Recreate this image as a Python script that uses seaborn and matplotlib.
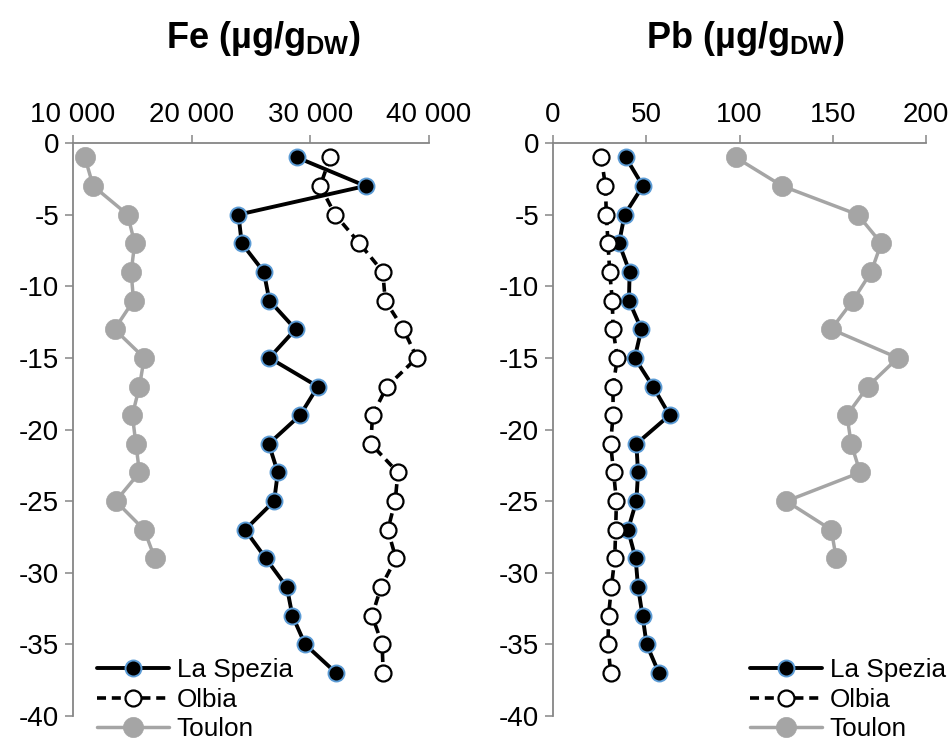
import matplotlib
matplotlib.use("Agg")
import matplotlib.pyplot as plt
from matplotlib.ticker import FuncFormatter, MultipleLocator
import seaborn as sns
import pandas as pd

# ---------------- data ----------------
depth_long = [-1, -3, -5, -7, -9, -11, -13, -15, -17, -19, -21, -23, -25, -27,
              -29, -31, -33, -35, -37]
depth_toulon = [-1, -3, -5, -7, -9, -11, -13, -15, -17, -19, -21, -23, -25, -27, -29]

fe_la_spezia = [28860, 34650, 23940, 24220, 26080, 26550, 28750, 26550, 30630,
                29140, 26500, 27260, 26950, 24500, 26250, 28020, 28490, 29560, 32180]
fe_olbia = [31670, 30830, 32090, 34140, 36110, 36310, 37850, 38980, 36450,
            35240, 35100, 37380, 37150, 36530, 37210, 35950, 35210, 36050, 36140]
fe_toulon = [11000, 11700, 14600, 15200, 14900, 15100, 13500, 16000, 15600,
             15000, 15300, 15600, 13600, 16000, 16900]

pb_la_spezia = [39.0, 48.2, 38.4, 35.4, 41.1, 40.7, 47.4, 43.8, 53.6, 62.5,
                44.7, 45.6, 44.7, 40.2, 44.3, 45.6, 48.0, 50.2, 56.8]
pb_olbia = [25.9, 28.1, 28.6, 29.5, 30.4, 31.8, 32.2, 34.5, 32.2, 32.2,
            30.9, 32.5, 34.0, 33.6, 33.1, 31.3, 29.8, 29.5, 30.9]
pb_toulon = [97.9, 122.9, 163.4, 176.0, 170.6, 160.8, 149.2, 184.9, 168.8,
             157.6, 159.9, 164.7, 125.1, 149.2, 151.9]

series_names = ["La Spezia", "Olbia", "Toulon"]
panel_titles = ["Fe (µg/g$_{\\mathregular{DW}}$)", "Pb (µg/g$_{\\mathregular{DW}}$)"]

# ---------------- style ----------------
sns.set_theme(style="white")
plt.rcParams["font.family"] = ["Liberation Sans", "DejaVu Sans"]
plt.rcParams["axes.unicode_minus"] = False
plt.rcParams["text.color"] = "black"
plt.rcParams["mathtext.fontset"] = "custom"
plt.rcParams["mathtext.rm"] = "Liberation Sans:bold"
plt.rcParams["mathtext.it"] = "Liberation Sans:bold"
plt.rcParams["mathtext.bf"] = "Liberation Sans:bold"

W, H = 952, 742
fig = plt.figure(figsize=(W / 100, H / 100), dpi=100)

def px_axes(x0, x1, ytop, ybot):
    return fig.add_axes([x0 / W, 1 - ybot / H, (x1 - x0) / W, (ybot - ytop) / H])

ax_fe = px_axes(73, 429, 143, 716)
ax_pb = px_axes(553, 926, 143, 716)

spine_col = "#868686"
blue_edge = "#5B9BD5"
gray = "#A5A5A5"
FS_TICK = 20
FS_LEG = 18.8

def draw(ax, ls_vals, ol_vals, to_vals):
    df_ls = pd.DataFrame({"v": ls_vals, "d": depth_long})
    df_ol = pd.DataFrame({"v": ol_vals, "d": depth_long})
    df_to = pd.DataFrame({"v": to_vals, "d": depth_toulon})
    sns.lineplot(data=df_ls, x="v", y="d", ax=ax, sort=False, estimator=None,
                 color="black", linewidth=2.8, marker="o", markersize=11.5,
                 markerfacecolor="black", markeredgecolor=blue_edge,
                 markeredgewidth=1.4, label=series_names[0], zorder=3)
    sns.lineplot(data=df_ol, x="v", y="d", ax=ax, sort=False, estimator=None,
                 color="black", linewidth=2.6, linestyle=(0, (2.5, 1.6)),
                 marker="o", markersize=11.5, markerfacecolor="white",
                 markeredgecolor="black", markeredgewidth=1.6,
                 label=series_names[1], zorder=4)
    sns.lineplot(data=df_to, x="v", y="d", ax=ax, sort=False, estimator=None,
                 color=gray, linewidth=2.5, marker="o", markersize=14.5,
                 markerfacecolor=gray, markeredgecolor=gray,
                 markeredgewidth=0.5, label=series_names[2], zorder=2)

draw(ax_fe, fe_la_spezia, fe_olbia, fe_toulon)
draw(ax_pb, pb_la_spezia, pb_olbia, pb_toulon)

ax_fe.set_xlim(10000, 40000)
ax_fe.xaxis.set_major_locator(MultipleLocator(10000))
ax_fe.xaxis.set_major_formatter(FuncFormatter(lambda v, p: f"{int(v):,}".replace(",", " ")))
ax_pb.set_xlim(0, 200)
ax_pb.xaxis.set_major_locator(MultipleLocator(50))
ax_pb.xaxis.set_major_formatter(FuncFormatter(lambda v, p: f"{int(v)}"))

for ax in [ax_fe, ax_pb]:
    ax.set_ylim(-40, 0)
    ax.yaxis.set_major_locator(MultipleLocator(5))
    ax.yaxis.set_major_formatter(FuncFormatter(lambda v, p: f"{int(round(v))}"))
    ax.set_xlabel("")
    ax.set_ylabel("")
    ax.xaxis.set_ticks_position("top")
    for s in ["right", "bottom"]:
        ax.spines[s].set_visible(False)
    for s in ["left", "top"]:
        ax.spines[s].set_color(spine_col)
        ax.spines[s].set_linewidth(1.3)
    ax.tick_params(axis="both", which="major", direction="out", length=6,
                   width=1.1, color=spine_col, labelsize=FS_TICK, labelcolor="black")
    ax.tick_params(axis="x", pad=5, top=True, bottom=False, labeltop=True, labelbottom=False)
    ax.tick_params(axis="y", pad=4, left=True)
    ax.grid(False)
    ax.patch.set_alpha(0)

fig.text(263 / W, 1 - 48 / H, panel_titles[0], ha="center", va="baseline",
         fontsize=26, fontweight="bold", color="black")
fig.text(745 / W, 1 - 48 / H, panel_titles[1], ha="center", va="baseline",
         fontsize=26, fontweight="bold", color="black")

for ax, lx in [(ax_fe, 97), (ax_pb, 750)]:
    leg = ax.legend(loc="upper left", bbox_to_anchor=(lx / W, 1 - 658 / H),
                    bbox_transform=fig.transFigure, frameon=False, fontsize=FS_LEG,
                    handlelength=2.75, handletextpad=0.3, labelspacing=0.22,
                    borderpad=0, borderaxespad=0)
    for t in leg.get_texts():
        t.set_color("black")
    leg.set_zorder(10)

fig.savefig("out.png", dpi=100)
